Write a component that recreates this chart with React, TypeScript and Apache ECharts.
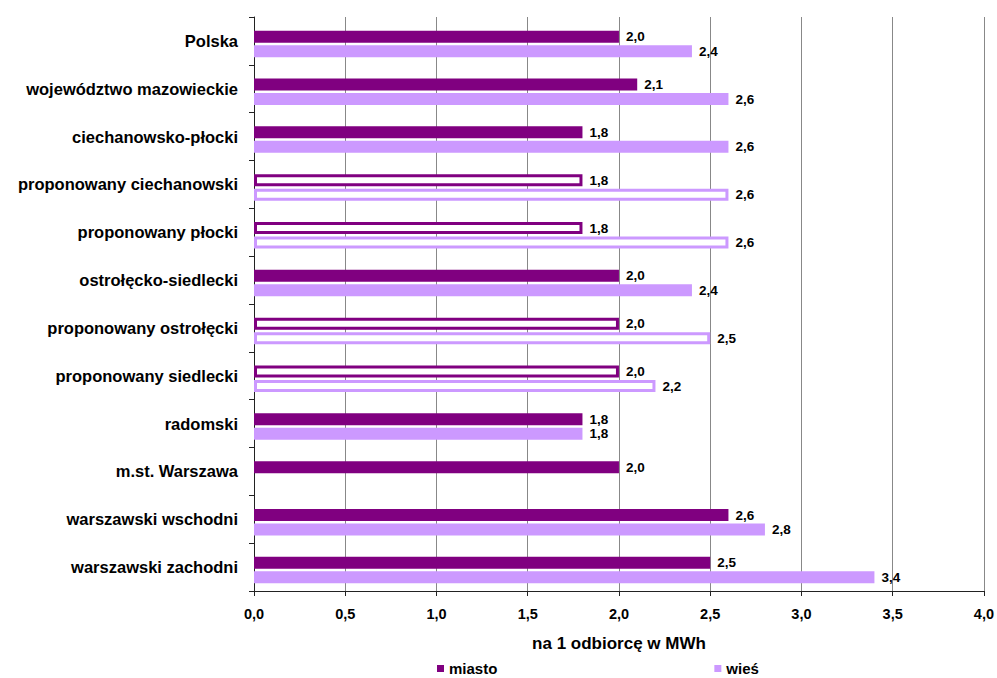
import React, { useEffect, useRef } from "react";
import * as echarts from "echarts";

const categories = [
  "Polska",
  "województwo mazowieckie",
  "ciechanowsko-płocki",
  "proponowany ciechanowski",
  "proponowany płocki",
  "ostrołęcko-siedlecki",
  "proponowany ostrołęcki",
  "proponowany siedlecki",
  "radomski",
  "m.st. Warszawa",
  "warszawski wschodni",
  "warszawski zachodni",
];
const miasto = [2.0, 2.1, 1.8, 1.8, 1.8, 2.0, 2.0, 2.0, 1.8, 2.0, 2.6, 2.5];
const wies = [2.4, 2.6, 2.6, 2.6, 2.6, 2.4, 2.5, 2.2, 1.8, null, 2.8, 3.4];
const hollow = [false, false, false, true, true, false, true, true, false, false, false, false];
const spacer = categories.map(() => null);

const MIASTO = "#800080";
const WIES = "#CC99FF";
const FONT = "'Liberation Sans', Arial, sans-serif";

const fmt = (v: number) => v.toFixed(1).replace(".", ",");

function buildData(values: (number | null)[], color: string) {
  return values.map((v, i) =>
    hollow[i] && v != null
      ? { value: v, itemStyle: { color: "#ffffff", borderColor: color, borderWidth: 3 } }
      : { value: v }
  );
}

export default function App() {
  const ref = useRef<HTMLDivElement>(null);
  useEffect(() => {
    const chart = echarts.init(ref.current!, null, { renderer: "svg" });
    const label = {
      show: true,
      position: "right" as const,
      distance: 7,
      color: "#000",
      fontWeight: "bold" as const,
      fontSize: 13.5,
      fontFamily: FONT,
      formatter: (p: any) => (p.value == null ? "" : fmt(p.value)),
    };
    chart.setOption({
      animation: false,
      backgroundColor: "#ffffff",
      textStyle: { fontFamily: FONT },
      grid: { left: 254, right: 12, top: 17, bottom: 87, containLabel: false },
      legend: {
        left: 437,
        top: 661,
        itemWidth: 7,
        itemHeight: 7,
        itemGap: 217,
        icon: "rect",
        padding: 0,
        textStyle: { fontSize: 15, fontWeight: "bold", color: "#000", fontFamily: FONT },
        data: [
          { name: "miasto", itemStyle: { color: MIASTO } },
          { name: "wieś", itemStyle: { color: WIES } },
        ],
      },
      xAxis: {
        type: "value",
        min: 0,
        max: 4,
        interval: 0.5,
        name: "na 1 odbiorcę w MWh",
        nameLocation: "middle",
        nameGap: 44,
        nameTextStyle: { fontSize: 17, fontWeight: "bold", color: "#000", fontFamily: FONT },
        axisLine: { show: true, lineStyle: { color: "#222", width: 1 } },
        axisTick: { show: true, length: 5, lineStyle: { color: "#222" } },
        axisLabel: {
          fontSize: 14.5,
          fontWeight: "bold",
          color: "#000",
          margin: 15,
          fontFamily: FONT,
          formatter: (v: number) => fmt(v),
        },
        splitLine: { show: true, lineStyle: { color: "#888888", width: 1 } },
      },
      yAxis: {
        type: "category",
        inverse: true,
        data: categories,
        axisLine: { show: true, lineStyle: { color: "#222", width: 1 } },
        axisTick: { show: true, length: 5, lineStyle: { color: "#222" } },
        axisLabel: {
          fontSize: 16.5,
          fontWeight: "bold",
          color: "#000",
          margin: 16,
          fontFamily: FONT,
        },
        splitLine: { show: false },
      },
      series: [
        {
          name: "spacer",
          type: "bar",
          data: spacer,
          barWidth: 5,
          silent: true,
          itemStyle: { color: "transparent" },
        },
        {
          name: "miasto",
          type: "bar",
          data: buildData(miasto, MIASTO),
          itemStyle: { color: MIASTO },
          barWidth: 12,
          label,
        },
        {
          name: "wieś",
          type: "bar",
          data: buildData(wies, WIES),
          itemStyle: { color: WIES },
          barWidth: 12,
          barGap: "20.8%",
          label,
        },
      ],
    });
    return () => chart.dispose();
  }, []);
  return (
    <div
      ref={ref}
      style={{ position: "fixed", left: 0, top: 0, width: 997, height: 678, background: "#fff" }}
    />
  );
}
